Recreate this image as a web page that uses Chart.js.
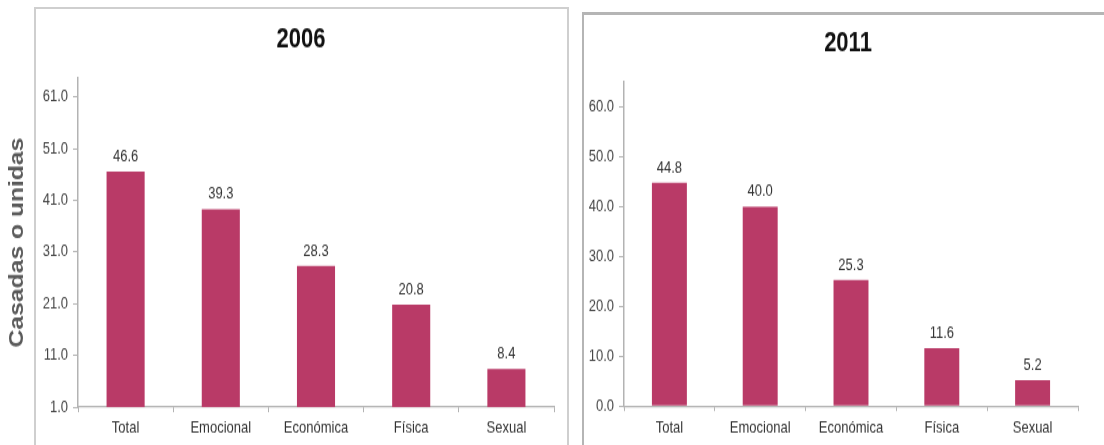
<!DOCTYPE html>
<html>
<head>
<meta charset="utf-8">
<script src="https://cdn.jsdelivr.net/npm/chart.js@4/dist/chart.umd.min.js"></script>
<style>
  body { margin: 0; background: #fff; width: 1104px; height: 445px; overflow: hidden; position: relative; }
  .box { position: absolute; border: 2px solid #cfcfcf; box-sizing: border-box; }
  #box1 { left: 34px; top: 7px; width: 535px; height: 460px; }
  #box2 { left: 582px; top: 12px; width: 540px; height: 460px; border-color: #b5b5b5; border-top-width: 3px; }
  /* the original picture is stretched vertically: draw short and stretch the canvas */
  canvas { position: absolute; top: 0; transform: scaleY(1.28); transform-origin: 0 0; }
  #c2006 { left: 0; }
  #c2011 { left: 582px; }
</style>
</head>
<body>
<div class="box" id="box1"></div>
<div class="box" id="box2"></div>
<canvas id="c2006" width="568" height="348"></canvas>
<canvas id="c2011" width="522" height="348"></canvas>
<script>
const categories = ["Total", "Emocional", "Económica", "Física", "Sexual"];
const values2006 = [46.6, 39.3, 28.3, 20.8, 8.4];
const values2011 = [44.8, 40.0, 25.3, 11.6, 5.2];
const ticks2006 = [1, 11, 21, 31, 41, 51, 61];
const ticks2011 = [0, 10, 20, 30, 40, 50, 60];
const yLabel = "Casadas o unidas";

const barColor = "#b93a67";
const axisColor = "#b3b3b3";
const sans = "'Liberation Sans', Arial, sans-serif";

const valueLabels = {
	id: "valueLabels",
	afterDatasetsDraw(chart) {
		const ctx = chart.ctx;
		const meta = chart.getDatasetMeta(0);
		const data = chart.data.datasets[0].data;
		ctx.save();
		ctx.font = "13px " + sans;
		ctx.fillStyle = "#333";
		ctx.textAlign = "center";
		ctx.textBaseline = "middle";
		meta.data.forEach((bar, i) => {
			ctx.fillText(data[i].toFixed(1), bar.x, bar.y - 11.7);
		});
		ctx.restore();
	},
};

// centre the title over the framed box rather than over the canvas
function titleSpan(left, right) {
	return {
		id: "titleSpan",
		afterLayout(chart) {
			chart.titleBlock.left = left;
			chart.titleBlock.right = right;
		},
	};
}

function makeChart(id, title, values, tickList, yMin, yMax, opts) {
	const ctx = document.getElementById(id).getContext("2d");
	return new Chart(ctx, {
		type: "bar",
		data: {
			labels: categories,
			datasets: [
				{
					data: values,
					backgroundColor: barColor,
					borderWidth: 0,
					categoryPercentage: 1,
					barPercentage: opts.barPct,
				},
			],
		},
		options: {
			responsive: false,
			animation: false,
			devicePixelRatio: 1,
			layout: { padding: { right: opts.padRight, bottom: 0, left: 0 } },
			plugins: {
				legend: { display: false },
				tooltip: { enabled: false },
				title: {
					display: true,
					text: title,
					color: "#111",
					font: { family: sans, size: 22, weight: "bold" },
					padding: { top: opts.titleTop, bottom: opts.titleBottom },
				},
			},
			scales: {
				x: {
					grid: { offset: true, drawOnChartArea: false, drawTicks: true, tickLength: 4, color: axisColor },
					border: { color: axisColor, width: 1.2 },
					ticks: { color: "#333", font: { family: sans, size: 13 }, padding: 5 },
					afterFit(scale) { scale.height = opts.xHeight; },
				},
				y: {
					min: yMin,
					max: yMax,
					grid: { drawOnChartArea: false, drawTicks: true, tickLength: 5, color: axisColor },
					border: { color: axisColor, width: 1.5 },
					ticks: {
						color: "#444",
						font: { family: sans, size: 13 },
						padding: 5,
						autoSkip: false,
						callback: (v) => Number(v).toFixed(1),
					},
					afterBuildTicks(scale) {
						scale.ticks = tickList.map((v) => ({ value: v }));
					},
					title: opts.yTitle
						? {
								display: true,
								text: yLabel,
								color: "#5a5a5a",
								font: { family: sans, size: 19.3, weight: "bold" },
								padding: { top: 6.4, bottom: 0 },
						  }
						: { display: false },
					afterFit(scale) { scale.width = opts.yWidth; },
				},
			},
		},
		plugins: [valueLabels, titleSpan(opts.titleL, opts.titleR)],
	});
}

makeChart("c2006", "2006", values2006, ticks2006, 1, 64.7, {
	barPct: 0.4, padRight: 14, titleTop: 17.3, titleBottom: 17.2, xHeight: 30, yWidth: 78, yTitle: true,
	titleL: 34, titleR: 568,
});
makeChart("c2011", "2011", values2011, ticks2011, 0, 65.2, {
	barPct: 0.385, padRight: 26, titleTop: 21.2, titleBottom: 15.7, xHeight: 30.8, yWidth: 42, yTitle: false,
	titleL: 0, titleR: 532,
});
</script>
</body>
</html>
